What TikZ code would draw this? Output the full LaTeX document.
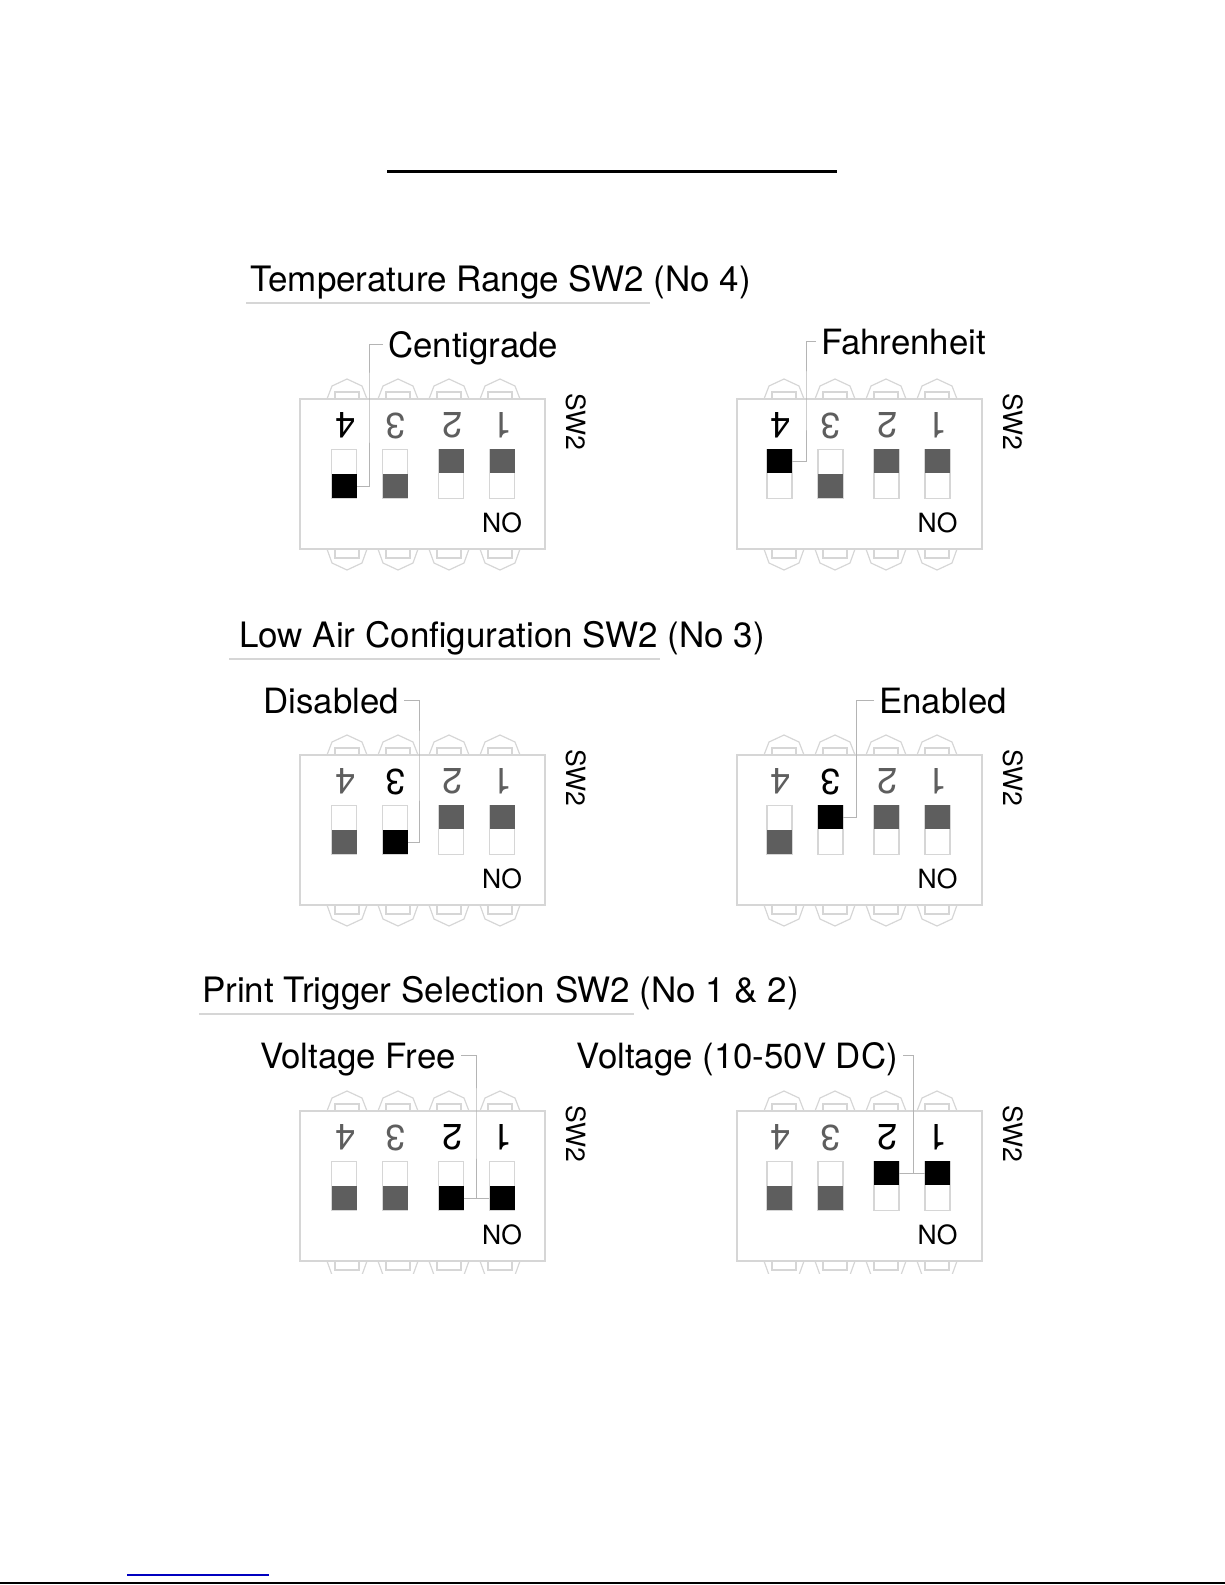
\documentclass[tikz,border=0pt]{standalone}
\usepackage{fontspec}
\setmainfont{TeX Gyre Heros}

\definecolor{swline}{HTML}{D6D6D6}
\definecolor{swgray}{HTML}{5E5E5E}
\definecolor{leadgray}{HTML}{B4B4B4}

\tikzset{
  swbody/.style={draw=swline,line width=1.2pt,minimum width=245pt,minimum height=150pt,inner sep=0pt},
  swslot/.style={draw=swline,line width=1.2pt,minimum width=25pt,minimum height=49pt,inner sep=0pt},
  swknob/.style={minimum width=25pt,minimum height=24.5pt,inner sep=0pt},
  swnum/.style={inner sep=0pt,rotate=180,font=\fontsize{36}{40}\selectfont},
  swtag/.style={inner sep=0pt,font=\fontsize{26.5}{30}\selectfont},
  heading/.style={inner sep=0pt,anchor=base west,font=\fontsize{35}{40}\selectfont},
  choice/.style={inner ysep=0pt,inner xsep=5pt,anchor=base west,text height=25pt,text depth=0pt,font=\fontsize{34.8}{40}\selectfont},
  underl/.style={draw=swline,line width=2pt},
  leader/.style={draw=leadgray,line width=1pt}
}

% name, x, y, end of lower pins, then switches 4 3 2 1 as knob y / colour
\newcommand{\swpanel}[9]{
  \begin{scope}[shift={(#2,#3)}]
    \node[swbody] (#1box) at (122.5,75) {};
    \node[swtag,rotate=-90] (#1tag) at (276,22.5) {SW2};
    \node[swtag] (#1no) at (202+#9,124) {NO};
    \foreach \num/\slotx/\pinx/\digx/\knoby/\knobcol in {4/44/47/45/#5,3/95/98/95/#6,2/151/149/152/#7,1/202/200/202/#8}{
      \draw[swline,line width=1.2pt] (\pinx-20,0) -- (\pinx-15,-13) -- (\pinx,-20) -- (\pinx+15,-13) -- (\pinx+20,0);
      \draw[swline,line width=1.2pt] (\pinx-12,0) -- (\pinx-12,-7) -- (\pinx+12,-7) -- (\pinx+12,0);
      \begin{scope}
        \clip (-10,150) rectangle (260,#4);
        \draw[swline,line width=1.2pt] (\pinx-20,150) -- (\pinx-15,164) -- (\pinx,171) -- (\pinx+15,164) -- (\pinx+20,150);
        \draw[swline,line width=1.2pt] (\pinx-12,150) -- (\pinx-12,159) -- (\pinx+12,159) -- (\pinx+12,150);
      \end{scope}
      \node[swnum,text=\knobcol] (#1d\num) at (\digx+#9,26.5) {\num};
      \node[swslot] (#1s\num) at (\slotx+#9,75) {};
      \node[swknob,fill=\knobcol] (#1k\num) at (\slotx+#9,\knoby) {};
    }
  \end{scope}
}

\begin{document}
\begin{tikzpicture}[x=1pt,y=-1pt]
  \useasboundingbox (0,0) rectangle (1225,1585);

  \draw[line width=3pt] (387,171) -- (837,171);

  % temperature range
  \node[heading] (tempHead) at (250,291) {Temperature Range SW2 (No 4)};
  \draw[underl] (246,303) -- (650,303);
  \swpanel{ta}{300}{399}{175}{87/black}{87/swgray}{62/swgray}{62/swgray}{0}
  \swpanel{tb}{737}{399}{175}{62/black}{87/swgray}{62/swgray}{62/swgray}{-1.5}
  \node[choice] (cgText) at (383,357) {Centigrade};
  \node[choice] (fhText) at (816,354) {Fahrenheit};
  \coordinate (cgBend) at (369,400);
  \coordinate (fhBend) at (806,400);
  \draw[leader] (cgText.west) -| (cgBend) |- (tak4.east);
  \draw[leader] (fhText.west) -| (fhBend) |- (tbk4.east);

  % low air
  \node[heading] (airHead) at (239,647) {Low Air Configuration SW2 (No 3)};
  \draw[underl] (229,659) -- (660,659);
  \swpanel{aa}{300}{755}{175}{87/swgray}{87/black}{62/swgray}{62/swgray}{0}
  \swpanel{ab}{737}{755}{175}{87/swgray}{62/black}{62/swgray}{62/swgray}{-1.5}
  \node[choice,anchor=base east] (dsText) at (404,713) {Disabled};
  \node[choice] (enText) at (874,713) {Enabled};
  \coordinate (dsBend) at (419,760);
  \coordinate (enBend) at (856,760);
  \draw[leader] (dsText.east) -| (dsBend) |- (aak3.east);
  \draw[leader] (enText.west) -| (enBend) |- (abk3.east);

  % print trigger
  \node[heading] (trigHead) at (202,1002) {Print Trigger Selection SW2 (No 1 \& 2)};
  \draw[underl] (199,1014) -- (634,1014);
  \swpanel{pa}{300}{1111}{162}{87/swgray}{87/swgray}{87/black}{87/black}{0}
  \swpanel{pb}{737}{1111}{162}{87/swgray}{87/swgray}{62/black}{62/black}{-1.5}
  \node[choice,anchor=base east] (vfText) at (461,1068) {Voltage Free};
  \node[choice,anchor=base east] (vdText) at (903,1068) {Voltage (10-50V DC)};
  \coordinate (vfBend) at (476,1120);
  \coordinate (vdBend) at (913,1120);
  \draw[leader] (vfText.east) -| (vfBend) |- (pak2.east);
  \draw[leader] (pak2.east) -- (pak1.west);
  \draw[leader] (vdText.east) -| (vdBend) |- (pbk2.east);
  \draw[leader] (pbk2.east) -- (pbk1.west);

  \draw[blue!75!black,line width=1.5pt] (127,1575) -- (269,1575);
  \draw[line width=2pt] (0,1583) -- (1225,1583);
\end{tikzpicture}
\end{document}
